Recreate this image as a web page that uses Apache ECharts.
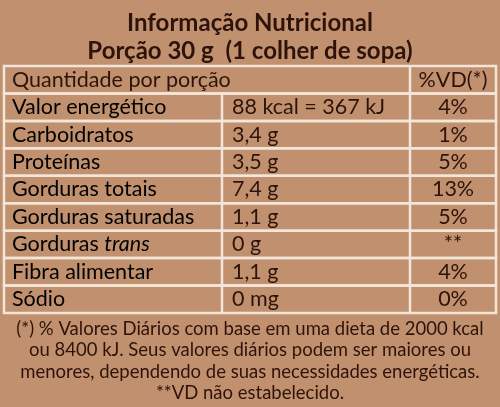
<!DOCTYPE html><html><head><meta charset="utf-8">
<script src="https://cdn.jsdelivr.net/npm/echarts@6/dist/echarts.min.js"></script>
<style>html,body{margin:0;background:#c1916f}#c{width:500px;height:407px}</style></head><body><div id="c"></div>
<script>
const titleLines = ['Informação Nutricional', 'Porção 30 g  (1 colher de sopa)'];
const headerLabels = ['Quantidade por porção', '%VD(*)'];
const nutrients = ['Valor energético','Carboidratos','Proteínas','Gorduras totais','Gorduras saturadas','Gorduras trans','Fibra alimentar','Sódio'];
const amounts = ['88 kcal = 367 kJ','3,4 g','3,5 g','7,4 g','1,1 g','0 g','1,1 g','0 mg'];
const dailyValues = ['4%','1%','5%','13%','5%','**','4%','0%'];
const footnote = ['(*) % Valores Diários com base em uma dieta de 2000 kcal','ou 8400 kJ. Seus valores diários podem ser maiores ou','menores, dependendo de suas necessidades energéticas.','**VD não estabelecido.'];

const rows = ['header'].concat(nutrients);
const txt = '#2e130a', line = '#f3e6d8', F = 'Lato, "Open Sans", sans-serif';
const chart = echarts.init(document.getElementById('c'));
function rich(s){ if(s==='Gorduras trans') return '{n|Gorduras }{i|trans}'; return '{n|'+s+'}'; }
chart.setOption({
  animation:false,
  title:{text:titleLines.join('\n'),left:'center',top:4,textStyle:{fontFamily:F,fontWeight:'bold',fontSize:24,color:txt,lineHeight:28}},
  grid:{left:4,right:4,top:66,bottom:94},
  xAxis:{type:'value',min:0,max:492,show:false},
  yAxis:{type:'category',data:rows,inverse:true,show:false},
  graphic:[{type:'text',x:250,y:318,style:{text:footnote.join('\n'),fontFamily:F,fontSize:18.5,lineHeight:21.5,fill:txt,align:'center'}}],
  series:[{type:'custom',data:rows.map((r,i)=>[i]),renderItem:function(params,api){
    const i=api.value(0);
    const top=api.coord([0,i]); const sz=api.size([0,1]);
    const y0=top[1]-sz[1]/2, h=sz[1], x0=api.coord([0,0])[0], x1=api.coord([492,0])[0];
    const c1=api.coord([218,0])[0], c2=api.coord([406,0])[0];
    const ch=[];
    ch.push({type:'rect',shape:{x:x0,y:y0,width:x1-x0,height:h},style:{fill:'none',stroke:line,lineWidth:2.5}});
    ch.push({type:'line',shape:{x1:c2,y1:y0,x2:c2,y2:y0+h},style:{stroke:line,lineWidth:2.5}});
    const base={fontFamily:F,fontSize:21.5,fill:txt,verticalAlign:'middle'};
    const cy=y0+h/2;
    if(i===0){
      ch.push({type:'text',style:Object.assign({},base,{text:headerLabels[0],x:x0+8,y:cy})});
      ch.push({type:'text',style:Object.assign({},base,{text:headerLabels[1],x:(c2+x1)/2,y:cy,align:'center'})});
    } else {
      ch.push({type:'line',shape:{x1:c1,y1:y0,x2:c1,y2:y0+h},style:{stroke:line,lineWidth:2.5}});
      ch.push({type:'text',style:{x:x0+8,y:cy,verticalAlign:'middle',text:rich(nutrients[i-1]),rich:{n:{fontFamily:F,fontSize:21.5,color:txt},i:{fontFamily:F,fontSize:21.5,color:txt,fontStyle:'italic'}}}});
      ch.push({type:'text',style:Object.assign({},base,{text:amounts[i-1],x:c1+10,y:cy})});
      ch.push({type:'text',style:Object.assign({},base,{text:dailyValues[i-1],x:(c2+x1)/2,y:cy,align:'center'})});
    }
    return {type:'group',children:ch};
  }}]
});
</script></body></html>
